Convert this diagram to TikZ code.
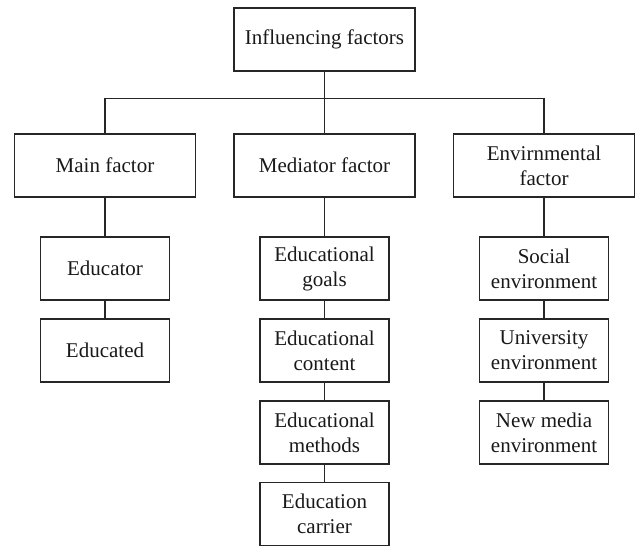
\documentclass[tikz,border=0pt]{standalone}
\usepackage{fontspec}
\setmainfont{Liberation Serif}
\begin{document}
\begin{tikzpicture}[x=1pt,y=-1pt,
  box/.style={draw=black!85,line width=1.1pt,minimum width=#1,minimum height=63pt,
    inner sep=0pt,align=center,font=\fontsize{21}{25}\selectfont,text=black!90},
  box/.default=181pt,
  conn/.style={draw=black!85,line width=1.1pt}]
\useasboundingbox (0,0) rectangle (635,546);
\node[box] (top) at (324.5,39.5) {Influencing factors};
\node[box] (main) at (105,165.5) {Main factor};
\node[box] (med) at (324.5,165.5) {Mediator factor};
\node[box] (env) at (544,165.5) {Envirnmental\\factor};
\node[box=129pt] (educator) at (105,268.5) {Educator};
\node[box=129pt] (educated) at (105,350.5) {Educated};
\node[box=129pt] (goals) at (324.5,268.5) {Educational\\goals};
\node[box=129pt] (content) at (324.5,350.5) {Educational\\content};
\node[box=129pt] (methods) at (324.5,432.5) {Educational\\methods};
\node[box=129pt] (carrier) at (324.5,514.2) {Education\\carrier};
\node[box=129pt] (social) at (544,268.5) {Social\\environment};
\node[box=129pt] (univ) at (544,350.5) {University\\environment};
\node[box=129pt] (newmedia) at (544,432.5) {New media\\environment};
\coordinate (bus) at (324.5,98.3);
\draw[conn] (top.south) -- (med.north);
\draw[conn] (main.north) |- (bus) -| (env.north);
\draw[conn] (main.south) -- (educator.north);
\draw[conn] (educator.south) -- (educated.north);
\draw[conn] (med.south) -- (goals.north);
\draw[conn] (goals.south) -- (content.north);
\draw[conn] (content.south) -- (methods.north);
\draw[conn] (methods.south) -- (carrier.north);
\draw[conn] (env.south) -- (social.north);
\draw[conn] (social.south) -- (univ.north);
\draw[conn] (univ.south) -- (newmedia.north);
\end{tikzpicture}
\end{document}
